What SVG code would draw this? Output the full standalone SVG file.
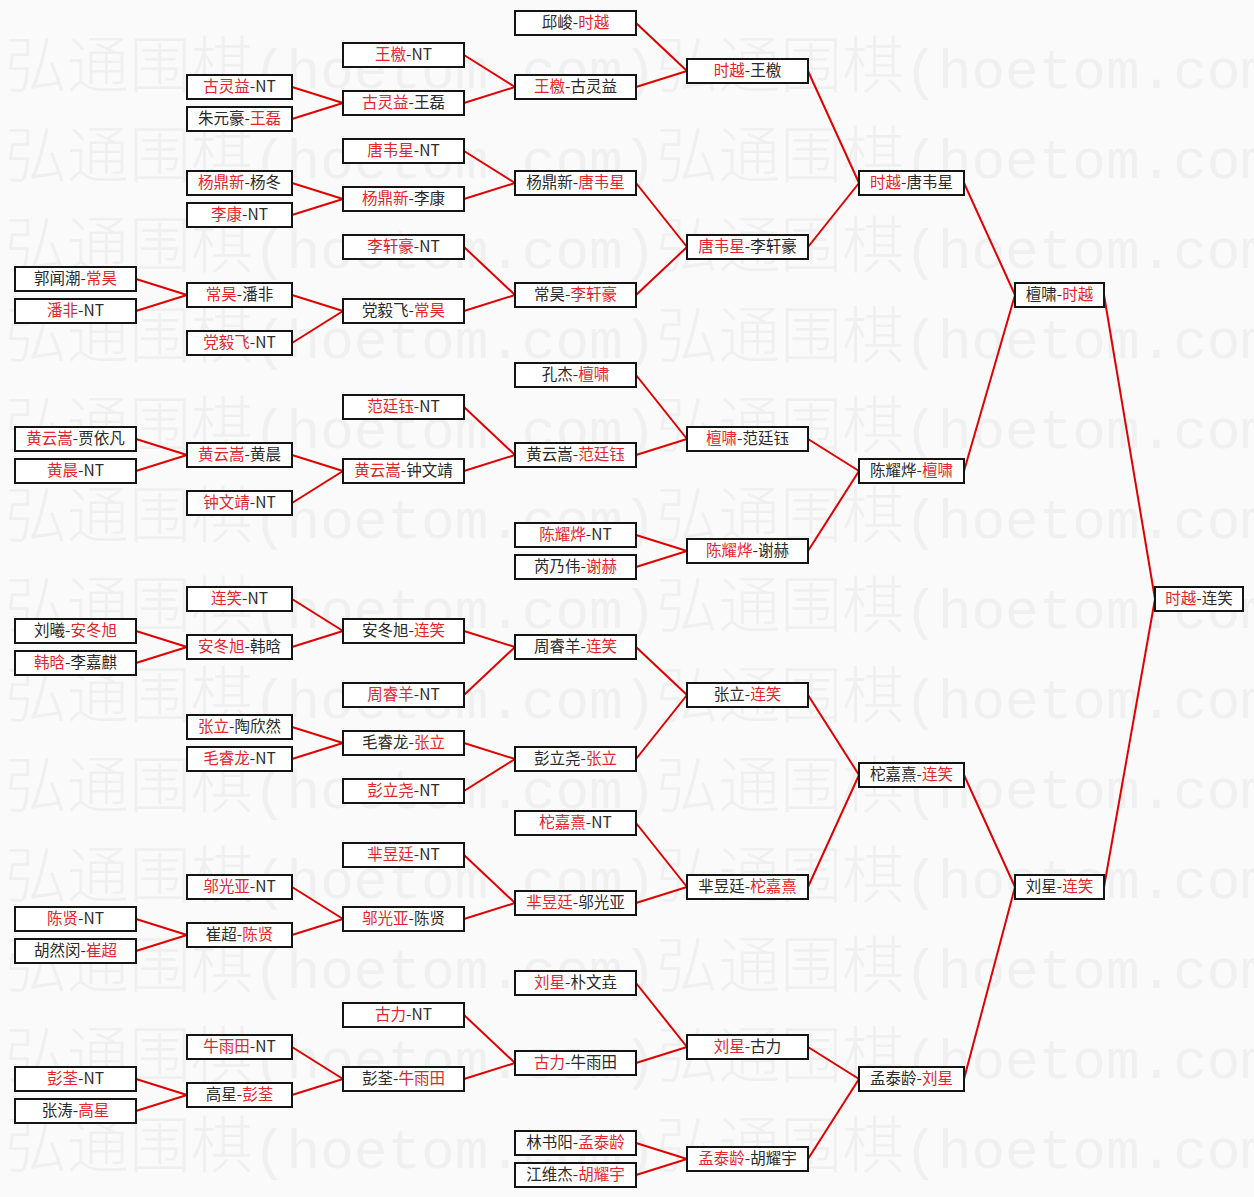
<svg xmlns="http://www.w3.org/2000/svg" width="1254" height="1197" viewBox="0 0 1254 1197">
<style>
.bg{fill:#fafafa}
.wm{fill:#f0f0f0;font-family:"Noto Sans CJK SC","Noto Sans",sans-serif;font-size:62px;font-weight:300}
.wl{font-family:"Liberation Mono",monospace;font-size:56px}
.bx{fill:#ffffff;stroke:#141414;stroke-width:2}
.t{font-family:"Noto Sans CJK SC","Noto Sans",sans-serif;font-size:15.5px;fill:#2a2a2a;text-anchor:middle}
.r{fill:#e3262e}
.c{stroke:#e00000;stroke-width:2;fill:none}
</style>
<rect class="bg" x="0" y="0" width="1254" height="1197"/>
<g id="watermark">
<text class="wm" x="5" y="88">弘通围棋<tspan class="wl">(hoetom.com)</tspan>弘通围棋<tspan class="wl">(hoetom.com</tspan></text>
<text class="wm" x="5" y="178">弘通围棋<tspan class="wl">(hoetom.com)</tspan>弘通围棋<tspan class="wl">(hoetom.com</tspan></text>
<text class="wm" x="5" y="268">弘通围棋<tspan class="wl">(hoetom.com)</tspan>弘通围棋<tspan class="wl">(hoetom.com</tspan></text>
<text class="wm" x="5" y="358">弘通围棋<tspan class="wl">(hoetom.com)</tspan>弘通围棋<tspan class="wl">(hoetom.com</tspan></text>
<text class="wm" x="5" y="448">弘通围棋<tspan class="wl">(hoetom.com)</tspan>弘通围棋<tspan class="wl">(hoetom.com</tspan></text>
<text class="wm" x="5" y="538">弘通围棋<tspan class="wl">(hoetom.com)</tspan>弘通围棋<tspan class="wl">(hoetom.com</tspan></text>
<text class="wm" x="5" y="628">弘通围棋<tspan class="wl">(hoetom.com)</tspan>弘通围棋<tspan class="wl">(hoetom.com</tspan></text>
<text class="wm" x="5" y="718">弘通围棋<tspan class="wl">(hoetom.com)</tspan>弘通围棋<tspan class="wl">(hoetom.com</tspan></text>
<text class="wm" x="5" y="808">弘通围棋<tspan class="wl">(hoetom.com)</tspan>弘通围棋<tspan class="wl">(hoetom.com</tspan></text>
<text class="wm" x="5" y="898">弘通围棋<tspan class="wl">(hoetom.com)</tspan>弘通围棋<tspan class="wl">(hoetom.com</tspan></text>
<text class="wm" x="5" y="988">弘通围棋<tspan class="wl">(hoetom.com)</tspan>弘通围棋<tspan class="wl">(hoetom.com</tspan></text>
<text class="wm" x="5" y="1078">弘通围棋<tspan class="wl">(hoetom.com)</tspan>弘通围棋<tspan class="wl">(hoetom.com</tspan></text>
<text class="wm" x="5" y="1168">弘通围棋<tspan class="wl">(hoetom.com)</tspan>弘通围棋<tspan class="wl">(hoetom.com</tspan></text>
</g>
<g id="connectors">
<line class="c" x1="136" y1="279" x2="187" y2="295"/>
<line class="c" x1="136" y1="311" x2="187" y2="295"/>
<line class="c" x1="136" y1="439" x2="187" y2="455"/>
<line class="c" x1="136" y1="471" x2="187" y2="455"/>
<line class="c" x1="136" y1="631" x2="187" y2="647"/>
<line class="c" x1="136" y1="663" x2="187" y2="647"/>
<line class="c" x1="136" y1="919" x2="187" y2="935"/>
<line class="c" x1="136" y1="951" x2="187" y2="935"/>
<line class="c" x1="136" y1="1079" x2="187" y2="1095"/>
<line class="c" x1="136" y1="1111" x2="187" y2="1095"/>
<line class="c" x1="292" y1="87" x2="343" y2="103"/>
<line class="c" x1="292" y1="119" x2="343" y2="103"/>
<line class="c" x1="292" y1="183" x2="343" y2="199"/>
<line class="c" x1="292" y1="215" x2="343" y2="199"/>
<line class="c" x1="292" y1="295" x2="343" y2="311"/>
<line class="c" x1="292" y1="343" x2="343" y2="311"/>
<line class="c" x1="292" y1="455" x2="343" y2="471"/>
<line class="c" x1="292" y1="503" x2="343" y2="471"/>
<line class="c" x1="292" y1="599" x2="343" y2="631"/>
<line class="c" x1="292" y1="647" x2="343" y2="631"/>
<line class="c" x1="292" y1="727" x2="343" y2="743"/>
<line class="c" x1="292" y1="759" x2="343" y2="743"/>
<line class="c" x1="292" y1="887" x2="343" y2="919"/>
<line class="c" x1="292" y1="935" x2="343" y2="919"/>
<line class="c" x1="292" y1="1047" x2="343" y2="1079"/>
<line class="c" x1="292" y1="1095" x2="343" y2="1079"/>
<line class="c" x1="464" y1="55" x2="515" y2="87"/>
<line class="c" x1="464" y1="103" x2="515" y2="87"/>
<line class="c" x1="464" y1="151" x2="515" y2="183"/>
<line class="c" x1="464" y1="199" x2="515" y2="183"/>
<line class="c" x1="464" y1="247" x2="515" y2="295"/>
<line class="c" x1="464" y1="311" x2="515" y2="295"/>
<line class="c" x1="464" y1="407" x2="515" y2="455"/>
<line class="c" x1="464" y1="471" x2="515" y2="455"/>
<line class="c" x1="464" y1="631" x2="515" y2="647"/>
<line class="c" x1="464" y1="695" x2="515" y2="647"/>
<line class="c" x1="464" y1="743" x2="515" y2="759"/>
<line class="c" x1="464" y1="791" x2="515" y2="759"/>
<line class="c" x1="464" y1="855" x2="515" y2="903"/>
<line class="c" x1="464" y1="919" x2="515" y2="903"/>
<line class="c" x1="464" y1="1015" x2="515" y2="1063"/>
<line class="c" x1="464" y1="1079" x2="515" y2="1063"/>
<line class="c" x1="636" y1="23" x2="687" y2="71"/>
<line class="c" x1="636" y1="87" x2="687" y2="71"/>
<line class="c" x1="636" y1="183" x2="687" y2="247"/>
<line class="c" x1="636" y1="295" x2="687" y2="247"/>
<line class="c" x1="636" y1="375" x2="687" y2="439"/>
<line class="c" x1="636" y1="455" x2="687" y2="439"/>
<line class="c" x1="636" y1="535" x2="687" y2="551"/>
<line class="c" x1="636" y1="567" x2="687" y2="551"/>
<line class="c" x1="636" y1="647" x2="687" y2="695"/>
<line class="c" x1="636" y1="759" x2="687" y2="695"/>
<line class="c" x1="636" y1="823" x2="687" y2="887"/>
<line class="c" x1="636" y1="903" x2="687" y2="887"/>
<line class="c" x1="636" y1="983" x2="687" y2="1047"/>
<line class="c" x1="636" y1="1063" x2="687" y2="1047"/>
<line class="c" x1="636" y1="1143" x2="687" y2="1159"/>
<line class="c" x1="636" y1="1175" x2="687" y2="1159"/>
<line class="c" x1="808" y1="71" x2="859" y2="183"/>
<line class="c" x1="808" y1="247" x2="859" y2="183"/>
<line class="c" x1="808" y1="439" x2="859" y2="471"/>
<line class="c" x1="808" y1="551" x2="859" y2="471"/>
<line class="c" x1="808" y1="695" x2="859" y2="775"/>
<line class="c" x1="808" y1="887" x2="859" y2="775"/>
<line class="c" x1="808" y1="1047" x2="859" y2="1079"/>
<line class="c" x1="808" y1="1159" x2="859" y2="1079"/>
<line class="c" x1="964" y1="183" x2="1015" y2="295"/>
<line class="c" x1="964" y1="471" x2="1015" y2="295"/>
<line class="c" x1="964" y1="775" x2="1015" y2="887"/>
<line class="c" x1="964" y1="1079" x2="1015" y2="887"/>
<line class="c" x1="1104" y1="295" x2="1155" y2="599"/>
<line class="c" x1="1104" y1="887" x2="1155" y2="599"/>
</g>
<g id="a1"><rect class="bx" x="15" y="267" width="121" height="24"/><text class="t" x="75.5" y="284">郭闻潮-<tspan class="r">常昊</tspan></text></g>
<g id="a2"><rect class="bx" x="15" y="299" width="121" height="24"/><text class="t" x="75.5" y="316"><tspan class="r">潘非</tspan>-NT</text></g>
<g id="a3"><rect class="bx" x="15" y="427" width="121" height="24"/><text class="t" x="75.5" y="444"><tspan class="r">黄云嵩</tspan>-贾依凡</text></g>
<g id="a4"><rect class="bx" x="15" y="459" width="121" height="24"/><text class="t" x="75.5" y="476"><tspan class="r">黄晨</tspan>-NT</text></g>
<g id="a5"><rect class="bx" x="15" y="619" width="121" height="24"/><text class="t" x="75.5" y="636">刘曦-<tspan class="r">安冬旭</tspan></text></g>
<g id="a6"><rect class="bx" x="15" y="651" width="121" height="24"/><text class="t" x="75.5" y="668"><tspan class="r">韩晗</tspan>-李嘉麒</text></g>
<g id="a7"><rect class="bx" x="15" y="907" width="121" height="24"/><text class="t" x="75.5" y="924"><tspan class="r">陈贤</tspan>-NT</text></g>
<g id="a8"><rect class="bx" x="15" y="939" width="121" height="24"/><text class="t" x="75.5" y="956">胡然闵-<tspan class="r">崔超</tspan></text></g>
<g id="a9"><rect class="bx" x="15" y="1067" width="121" height="24"/><text class="t" x="75.5" y="1084"><tspan class="r">彭荃</tspan>-NT</text></g>
<g id="a10"><rect class="bx" x="15" y="1099" width="121" height="24"/><text class="t" x="75.5" y="1116">张涛-<tspan class="r">高星</tspan></text></g>
<g id="b1"><rect class="bx" x="187" y="75" width="105" height="24"/><text class="t" x="239.5" y="92"><tspan class="r">古灵益</tspan>-NT</text></g>
<g id="b2"><rect class="bx" x="187" y="107" width="105" height="24"/><text class="t" x="239.5" y="124">朱元豪-<tspan class="r">王磊</tspan></text></g>
<g id="b3"><rect class="bx" x="187" y="171" width="105" height="24"/><text class="t" x="239.5" y="188"><tspan class="r">杨鼎新</tspan>-杨冬</text></g>
<g id="b4"><rect class="bx" x="187" y="203" width="105" height="24"/><text class="t" x="239.5" y="220"><tspan class="r">李康</tspan>-NT</text></g>
<g id="b5"><rect class="bx" x="187" y="283" width="105" height="24"/><text class="t" x="239.5" y="300"><tspan class="r">常昊</tspan>-潘非</text></g>
<g id="b6"><rect class="bx" x="187" y="331" width="105" height="24"/><text class="t" x="239.5" y="348"><tspan class="r">党毅飞</tspan>-NT</text></g>
<g id="b7"><rect class="bx" x="187" y="443" width="105" height="24"/><text class="t" x="239.5" y="460"><tspan class="r">黄云嵩</tspan>-黄晨</text></g>
<g id="b8"><rect class="bx" x="187" y="491" width="105" height="24"/><text class="t" x="239.5" y="508"><tspan class="r">钟文靖</tspan>-NT</text></g>
<g id="b9"><rect class="bx" x="187" y="587" width="105" height="24"/><text class="t" x="239.5" y="604"><tspan class="r">连笑</tspan>-NT</text></g>
<g id="b10"><rect class="bx" x="187" y="635" width="105" height="24"/><text class="t" x="239.5" y="652"><tspan class="r">安冬旭</tspan>-韩晗</text></g>
<g id="b11"><rect class="bx" x="187" y="715" width="105" height="24"/><text class="t" x="239.5" y="732"><tspan class="r">张立</tspan>-陶欣然</text></g>
<g id="b12"><rect class="bx" x="187" y="747" width="105" height="24"/><text class="t" x="239.5" y="764"><tspan class="r">毛睿龙</tspan>-NT</text></g>
<g id="b13"><rect class="bx" x="187" y="875" width="105" height="24"/><text class="t" x="239.5" y="892"><tspan class="r">邬光亚</tspan>-NT</text></g>
<g id="b14"><rect class="bx" x="187" y="923" width="105" height="24"/><text class="t" x="239.5" y="940">崔超-<tspan class="r">陈贤</tspan></text></g>
<g id="b15"><rect class="bx" x="187" y="1035" width="105" height="24"/><text class="t" x="239.5" y="1052"><tspan class="r">牛雨田</tspan>-NT</text></g>
<g id="b16"><rect class="bx" x="187" y="1083" width="105" height="24"/><text class="t" x="239.5" y="1100">高星-<tspan class="r">彭荃</tspan></text></g>
<g id="c1"><rect class="bx" x="343" y="43" width="121" height="24"/><text class="t" x="403.5" y="60"><tspan class="r">王檄</tspan>-NT</text></g>
<g id="c2"><rect class="bx" x="343" y="91" width="121" height="24"/><text class="t" x="403.5" y="108"><tspan class="r">古灵益</tspan>-王磊</text></g>
<g id="c3"><rect class="bx" x="343" y="139" width="121" height="24"/><text class="t" x="403.5" y="156"><tspan class="r">唐韦星</tspan>-NT</text></g>
<g id="c4"><rect class="bx" x="343" y="187" width="121" height="24"/><text class="t" x="403.5" y="204"><tspan class="r">杨鼎新</tspan>-李康</text></g>
<g id="c5"><rect class="bx" x="343" y="235" width="121" height="24"/><text class="t" x="403.5" y="252"><tspan class="r">李轩豪</tspan>-NT</text></g>
<g id="c6"><rect class="bx" x="343" y="299" width="121" height="24"/><text class="t" x="403.5" y="316">党毅飞-<tspan class="r">常昊</tspan></text></g>
<g id="c7"><rect class="bx" x="343" y="395" width="121" height="24"/><text class="t" x="403.5" y="412"><tspan class="r">范廷钰</tspan>-NT</text></g>
<g id="c8"><rect class="bx" x="343" y="459" width="121" height="24"/><text class="t" x="403.5" y="476"><tspan class="r">黄云嵩</tspan>-钟文靖</text></g>
<g id="c9"><rect class="bx" x="343" y="619" width="121" height="24"/><text class="t" x="403.5" y="636">安冬旭-<tspan class="r">连笑</tspan></text></g>
<g id="c10"><rect class="bx" x="343" y="683" width="121" height="24"/><text class="t" x="403.5" y="700"><tspan class="r">周睿羊</tspan>-NT</text></g>
<g id="c11"><rect class="bx" x="343" y="731" width="121" height="24"/><text class="t" x="403.5" y="748">毛睿龙-<tspan class="r">张立</tspan></text></g>
<g id="c12"><rect class="bx" x="343" y="779" width="121" height="24"/><text class="t" x="403.5" y="796"><tspan class="r">彭立尧</tspan>-NT</text></g>
<g id="c13"><rect class="bx" x="343" y="843" width="121" height="24"/><text class="t" x="403.5" y="860"><tspan class="r">芈昱廷</tspan>-NT</text></g>
<g id="c14"><rect class="bx" x="343" y="907" width="121" height="24"/><text class="t" x="403.5" y="924"><tspan class="r">邬光亚</tspan>-陈贤</text></g>
<g id="c15"><rect class="bx" x="343" y="1003" width="121" height="24"/><text class="t" x="403.5" y="1020"><tspan class="r">古力</tspan>-NT</text></g>
<g id="c16"><rect class="bx" x="343" y="1067" width="121" height="24"/><text class="t" x="403.5" y="1084">彭荃-<tspan class="r">牛雨田</tspan></text></g>
<g id="d1"><rect class="bx" x="515" y="11" width="121" height="24"/><text class="t" x="575.5" y="28">邱峻-<tspan class="r">时越</tspan></text></g>
<g id="d2"><rect class="bx" x="515" y="75" width="121" height="24"/><text class="t" x="575.5" y="92"><tspan class="r">王檄</tspan>-古灵益</text></g>
<g id="d3"><rect class="bx" x="515" y="171" width="121" height="24"/><text class="t" x="575.5" y="188">杨鼎新-<tspan class="r">唐韦星</tspan></text></g>
<g id="d4"><rect class="bx" x="515" y="283" width="121" height="24"/><text class="t" x="575.5" y="300">常昊-<tspan class="r">李轩豪</tspan></text></g>
<g id="d5"><rect class="bx" x="515" y="363" width="121" height="24"/><text class="t" x="575.5" y="380">孔杰-<tspan class="r">檀啸</tspan></text></g>
<g id="d6"><rect class="bx" x="515" y="443" width="121" height="24"/><text class="t" x="575.5" y="460">黄云嵩-<tspan class="r">范廷钰</tspan></text></g>
<g id="d7"><rect class="bx" x="515" y="523" width="121" height="24"/><text class="t" x="575.5" y="540"><tspan class="r">陈耀烨</tspan>-NT</text></g>
<g id="d8"><rect class="bx" x="515" y="555" width="121" height="24"/><text class="t" x="575.5" y="572">芮乃伟-<tspan class="r">谢赫</tspan></text></g>
<g id="d9"><rect class="bx" x="515" y="635" width="121" height="24"/><text class="t" x="575.5" y="652">周睿羊-<tspan class="r">连笑</tspan></text></g>
<g id="d10"><rect class="bx" x="515" y="747" width="121" height="24"/><text class="t" x="575.5" y="764">彭立尧-<tspan class="r">张立</tspan></text></g>
<g id="d11"><rect class="bx" x="515" y="811" width="121" height="24"/><text class="t" x="575.5" y="828"><tspan class="r">柁嘉熹</tspan>-NT</text></g>
<g id="d12"><rect class="bx" x="515" y="891" width="121" height="24"/><text class="t" x="575.5" y="908"><tspan class="r">芈昱廷</tspan>-邬光亚</text></g>
<g id="d13"><rect class="bx" x="515" y="971" width="121" height="24"/><text class="t" x="575.5" y="988"><tspan class="r">刘星</tspan>-朴文垚</text></g>
<g id="d14"><rect class="bx" x="515" y="1051" width="121" height="24"/><text class="t" x="575.5" y="1068"><tspan class="r">古力</tspan>-牛雨田</text></g>
<g id="d15"><rect class="bx" x="515" y="1131" width="121" height="24"/><text class="t" x="575.5" y="1148">林书阳-<tspan class="r">孟泰龄</tspan></text></g>
<g id="d16"><rect class="bx" x="515" y="1163" width="121" height="24"/><text class="t" x="575.5" y="1180">江维杰-<tspan class="r">胡耀宇</tspan></text></g>
<g id="e1"><rect class="bx" x="687" y="59" width="121" height="24"/><text class="t" x="747.5" y="76"><tspan class="r">时越</tspan>-王檄</text></g>
<g id="e2"><rect class="bx" x="687" y="235" width="121" height="24"/><text class="t" x="747.5" y="252"><tspan class="r">唐韦星</tspan>-李轩豪</text></g>
<g id="e3"><rect class="bx" x="687" y="427" width="121" height="24"/><text class="t" x="747.5" y="444"><tspan class="r">檀啸</tspan>-范廷钰</text></g>
<g id="e4"><rect class="bx" x="687" y="539" width="121" height="24"/><text class="t" x="747.5" y="556"><tspan class="r">陈耀烨</tspan>-谢赫</text></g>
<g id="e5"><rect class="bx" x="687" y="683" width="121" height="24"/><text class="t" x="747.5" y="700">张立-<tspan class="r">连笑</tspan></text></g>
<g id="e6"><rect class="bx" x="687" y="875" width="121" height="24"/><text class="t" x="747.5" y="892">芈昱廷-<tspan class="r">柁嘉熹</tspan></text></g>
<g id="e7"><rect class="bx" x="687" y="1035" width="121" height="24"/><text class="t" x="747.5" y="1052"><tspan class="r">刘星</tspan>-古力</text></g>
<g id="e8"><rect class="bx" x="687" y="1147" width="121" height="24"/><text class="t" x="747.5" y="1164"><tspan class="r">孟泰龄</tspan>-胡耀宇</text></g>
<g id="f1"><rect class="bx" x="859" y="171" width="105" height="24"/><text class="t" x="911.5" y="188"><tspan class="r">时越</tspan>-唐韦星</text></g>
<g id="f2"><rect class="bx" x="859" y="459" width="105" height="24"/><text class="t" x="911.5" y="476">陈耀烨-<tspan class="r">檀啸</tspan></text></g>
<g id="f3"><rect class="bx" x="859" y="763" width="105" height="24"/><text class="t" x="911.5" y="780">柁嘉熹-<tspan class="r">连笑</tspan></text></g>
<g id="f4"><rect class="bx" x="859" y="1067" width="105" height="24"/><text class="t" x="911.5" y="1084">孟泰龄-<tspan class="r">刘星</tspan></text></g>
<g id="g1"><rect class="bx" x="1015" y="283" width="89" height="24"/><text class="t" x="1059.5" y="300">檀啸-<tspan class="r">时越</tspan></text></g>
<g id="g2"><rect class="bx" x="1015" y="875" width="89" height="24"/><text class="t" x="1059.5" y="892">刘星-<tspan class="r">连笑</tspan></text></g>
<g id="h1"><rect class="bx" x="1155" y="587" width="88" height="24"/><text class="t" x="1199" y="604"><tspan class="r">时越</tspan>-连笑</text></g>
</svg>
